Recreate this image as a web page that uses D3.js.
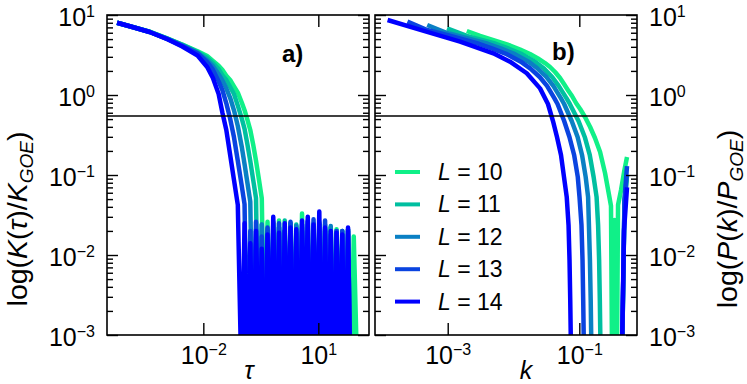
<!DOCTYPE html>
<html><head><meta charset="utf-8">
<script src="https://cdn.jsdelivr.net/npm/d3@7"></script>
<style>
body{margin:0;background:#fff}
svg text{font-family:"Liberation Sans",Arial,Helvetica,sans-serif}
</style>
</head><body>
<svg id="chart" width="747" height="384"></svg>
<script>
// ---------------- DATA ----------------
const sizes = [10, 11, 12, 13, 14];
const colors = ["#10f088", "#00bfa0", "#0a80c4", "#0a44e0", "#0000ff"];
const yTickValues = [1e-3, 1e-2, 1e-1, 1, 10];
const tauTicks = [1e-2, 10];
const kTicks = [1e-3, 1e-1];
const tauDomain = [3.07e-5, 210];
const kDomain = [7.85e-5, 0.753];
const valueDomain = [1e-3, 10];
const goeLevel = 0.546;

// panel a) : spectral form factor ratio, shared tau grid
const tau = [5.62e-5, 1.41e-4, 3.98e-4, 1.12e-3, 2.82e-3, 7.08e-3, 0.0126, 0.0178, 0.0251, 0.0316, 0.0398, 0.0501, 0.0631, 0.0794, 0.1,
  0.119, 0.141, 0.168, 0.2, 0.237, 0.282, 0.335, 0.398, 0.473, 0.562, 0.668, 0.794, 0.944, 1.12, 1.33, 1.58, 1.88, 2.24, 2.66, 3.16,
  3.76, 4.47, 5.31, 6.31, 7.5, 8.91, 10.6, 12.6, 15.0, 17.8, 21.1, 25.1, 29.9, 35.5, 42.2, 50.1, 59.6, 70.8, 84.1, 110];
const kA10 = [8.01, 7.10, 6.18, 5.11, 4.28, 3.52, 3.08, 2.67, 2.32, 2.05, 1.74, 1.54, 1.28, 1.07, 0.811,
  0.646, 0.491, 0.365, 0.240, 0.150, 0.0881, 0.0510, 3e-4, 0.026, 1e-4, 0.023, 2e-4, 0.027, 1e-4, 0.02, 3e-4, 0.025, 1e-4, 0.023, 2e-4,
  0.033, 1e-4, 0.024, 2e-4, 0.022, 1e-4, 0.026, 3e-4, 0.021, 1e-4, 0.022, 2e-4, 0.021, 1e-4, 0.02, 2e-4, 0.018, 3e-4, 0.017, 1e-4];
const kA11 = [8.01, 7.08, 6.17, 5.10, 4.24, 3.44, 2.91, 2.50, 2.11, 1.76, 1.54, 1.26, 1.03, 0.737, 0.513,
  0.377, 0.243, 0.149, 0.0866, 0.0514, 2e-4, 0.024, 1e-4, 0.021, 2e-4, 0.025, 1e-4, 0.022, 3e-4, 0.027, 1e-4, 0.02, 2e-4, 0.024, 1e-4,
  0.022, 3e-4, 0.02, 1e-4, 0.025, 2e-4, 0.021, 1e-4, 0.024, 2e-4, 0.022, 1e-4, 0.019, 3e-4, 0.02, 1e-4, 0.021, 2e-4, null, null];
const kA12 = [8.01, 7.08, 6.13, 5.07, 4.18, 3.34, 2.72, 2.30, 1.82, 1.51, 1.21, 0.923, 0.644, 0.410, 0.229,
  0.137, 0.0804, 0.0464, 3e-4, 0.021, 1e-4, 0.024, 2e-4, 0.02, 1e-4, 0.026, 3e-4, 0.022, 1e-4, 0.02, 2e-4, 0.025, 1e-4, 0.023, 3e-4,
  0.02, 1e-4, 0.027, 2e-4, 0.022, 1e-4, 0.024, 2e-4, 0.02, 1e-4, 0.023, 3e-4, 0.02, 1e-4, 0.018, 2e-4, 0.021, 1e-4, null, null];
const kA13 = [8.01, 7.08, 6.13, 5.04, 4.11, 3.33, 2.57, 2.07, 1.48, 1.14, 0.788, 0.504, 0.296, 0.150, 0.0744,
  0.0431, 2e-4, 0.02, 1e-4, 0.026, 2e-4, 0.017, 1e-4, 0.022, 3e-4, 0.02, 1e-4, 0.025, 2e-4, 0.02, 1e-4, 0.026, 3e-4, 0.019, 1e-4,
  0.024, 2e-4, 0.026, 1e-4, 0.028, 2e-4, 0.025, 1e-4, 0.027, 3e-4, 0.018, 1e-4, 0.02, 2e-4, 0.02, 1e-4, 0.02, 1e-4, null, null];
const kA14 = [8.01, 7.08, 6.13, 5.01, 4.04, 3.12, 2.24, 1.63, 1.03, 0.596, 0.365, 0.178, 0.0866, 0.0422, 2e-4,
  0.025, 1e-4, 0.014, 2e-4, 0.02, 5e-4, 0.012, 1e-4, 0.018, 3e-4, 0.03, 2e-4, 0.019, 1e-4, 0.025, 4e-4, 0.022, 1e-4, 0.021, 2e-4,
  0.027, 6e-4, 0.03, 1e-4, 0.024, 3e-4, 0.035, 1e-4, 0.022, 2e-4, 0.02, 1e-4, 0.019, 3e-4, 0.018, 1e-4, 0.022, 1e-4, null, null];

// panel b) : each size has its own k grid
const kB10 = [1.95e-3, 3.10e-3, 5.24e-3, 8.85e-3, 0.0126, 0.0178, 0.0235, 0.0301, 0.0359, 0.0428, 0.0509, 0.0585, 0.0673, 0.0775, 0.0891,
  0.103, 0.122, 0.146, 0.173, 0.207, 0.246, 0.283, 0.303, 0.325, 0.343, 0.361, 0.388, 0.431, 0.479, 0.531];
const pB10 = [6.31, 5.47, 4.79, 4.16, 3.70, 3.25, 2.86, 2.51, 2.24, 1.94, 1.63, 1.37, 1.15, 0.972, 0.794,
  0.668, 0.531, 0.398, 0.290, 0.194, 0.106, 0.0562, 0.041, 1e-5, 0.0274, 1e-5, 0.0422, 0.065, 0.109, 0.168];
const kB11 = [9.77e-4, 1.95e-3, 5.35e-3, 8.51e-3, 0.0134, 0.0213, 0.0291, 0.0387, 0.0486, 0.0637, 0.0718, 0.0973, 0.121, 0.144, 0.165,
  0.183, 0.193, 0.200, 0.205, 0.209, 0.221, 0.416, 0.446, 0.486, 0.531];
const pB11 = [6.82, 5.47, 4.37, 3.79, 3.24, 2.61, 2.14, 1.68, 1.30, 0.915, 0.772, 0.473, 0.299, 0.178, 0.0944,
  0.0531, 0.0237, 0.00866, 0.00274, 8.66e-4, 1e-4, 1e-5, 5e-4, 0.045, 0.1];
const kB12 = [4.88e-4, 9.77e-4, 4.07e-3, 6.53e-3, 0.0105, 0.0169, 0.0233, 0.0316, 0.0403, 0.0524, 0.0588, 0.0766, 0.0942, 0.110, 0.125,
  0.136, 0.140, 0.145, 0.149, 0.152, 0.161, 0.416, 0.446, 0.486, 0.531];
const pB12 = [7.50, 5.96, 4.37, 3.79, 3.24, 2.61, 2.14, 1.68, 1.30, 0.915, 0.772, 0.473, 0.299, 0.178, 0.0944,
  0.0531, 0.0237, 0.00866, 0.00274, 8.66e-4, 1e-4, 1e-5, 5e-4, 0.045, 0.1];
const kB13 = [2.44e-4, 4.88e-4, 9.77e-4, 2.97e-3, 4.80e-3, 7.89e-3, 0.0129, 0.0181, 0.0250, 0.0323, 0.0417, 0.0467, 0.0589, 0.0708, 0.0834,
  0.0948, 0.1007, 0.1079, 0.1119, 0.1146, 0.1169, 0.1222, 0.416, 0.446, 0.486, 0.531];
const pB13 = [8.25, 6.49, 5.62, 4.37, 3.79, 3.24, 2.61, 2.14, 1.68, 1.30, 0.915, 0.772, 0.473, 0.299, 0.178,
  0.0944, 0.0531, 0.0237, 0.00866, 0.00274, 8.66e-4, 1e-4, 1e-5, 5e-4, 0.0487, 0.129];
const kB14 = [1.22e-4, 4.73e-4, 1.54e-3, 4.93e-3, 8.85e-3, 0.0159, 0.0253, 0.0334, 0.0398, 0.0458, 0.0527, 0.0585, 0.0644, 0.0686, 0.0710,
  0.0728, 0.0743, 0.0775, 0.416, 0.438, 0.478, 0.531];
const pB14 = [8.66, 6.20, 4.64, 3.32, 2.61, 1.87, 1.21, 0.772, 0.473, 0.299, 0.178, 0.0944, 0.0531, 0.0237, 0.00866,
  0.00274, 8.66e-4, 1e-4, 1e-5, 3e-4, 0.02, 0.07];

// ---------------- LAYOUT ----------------
const FONT = '"Liberation Sans", Arial, Helvetica, sans-serif';
const plotTop = 15, plotBottom = 335;
const pA = {x0: 107, x1: 369}, pB = {x0: 375, x1: 637};
const svg = d3.select("#chart");

const y = d3.scaleLog().domain(valueDomain).range([plotBottom, plotTop]);
const xA = d3.scaleLog().domain(tauDomain).range([pA.x0, pA.x1]);
const xB = d3.scaleLog().domain(kDomain).range([pB.x0, pB.x1]);

const defs = svg.append("defs");
[["clipA", pA], ["clipB", pB]].forEach(([id, p]) => {
  defs.append("clipPath").attr("id", id).append("rect")
    .attr("x", p.x0).attr("y", plotTop).attr("width", p.x1 - p.x0).attr("height", plotBottom - plotTop);
});

const seriesA = [kA10, kA11, kA12, kA13, kA14].map(v => tau.map((t, i) => ({x: t, v: v[i]})));
const seriesB = [[kB10, pB10], [kB11, pB11], [kB12, pB12], [kB13, pB13], [kB14, pB14]]
  .map(([ks, ps]) => ks.map((k, i) => ({x: k, v: ps[i]})));

function drawCurves(series, x, clip) {
  const line = d3.line().defined(d => d.v != null).x(d => x(d.x)).y(d => y(d.v));
  svg.append("g").attr("clip-path", `url(#${clip})`)
    .selectAll("path").data(series).join("path")
    .attr("d", line).attr("fill", "none")
    .attr("stroke", (d, i) => colors[i]).attr("stroke-width", 4.5)
    .attr("stroke-linejoin", "round");
}
drawCurves(seriesA, xA, "clipA");
drawCurves(seriesB, xB, "clipB");

// GOE reference line
[pA, pB].forEach(p => {
  svg.append("line").attr("x1", p.x0).attr("x2", p.x1)
    .attr("y1", y(goeLevel)).attr("y2", y(goeLevel))
    .attr("stroke", "#000").attr("stroke-width", 1.4);
});

// minor ticks
const minor = [];
yTickValues.slice(0, -1).forEach(d => { for (let m = 2; m <= 9; m++) minor.push(d * m); });

function supText(sel, sup, supDy) {
  sel.each(function(d) {
    const e = Math.round(Math.log10(d));
    const t = d3.select(this);
    t.text(null);
    t.append("tspan").text("10");
    t.append("tspan").attr("font-size", sup).attr("dy", supDy)
      .text(e < 0 ? "\u2212" + (-e) : String(e));
  });
}

function styleAxis(g) {
  g.attr("font-family", FONT).attr("font-size", 25);
  g.select(".domain").remove();
  g.selectAll(".tick line").attr("stroke", "#000").attr("stroke-width", 1.4);
  g.selectAll("text").attr("fill", "#000");
}

function yAxis(gen, xpos, labels) {
  const major = svg.append("g").attr("transform", `translate(${xpos},0)`)
    .call(gen(y).tickValues(yTickValues).tickSize(-11).tickSizeOuter(0).tickPadding(12)
      .tickFormat(labels ? (d => d) : () => ""));
  styleAxis(major);
  if (labels) {
    major.selectAll("text").attr("dy", "0.42em");
    supText(major.selectAll("text"), 16, -9);
  }
  const mn = svg.append("g").attr("transform", `translate(${xpos},0)`)
    .call(gen(y).tickValues(minor).tickSize(-6).tickSizeOuter(0).tickFormat(() => ""));
  styleAxis(mn);
}
yAxis(d3.axisLeft, pA.x0, true);
yAxis(d3.axisRight, pA.x1, false);
yAxis(d3.axisLeft, pB.x0, false);
yAxis(d3.axisRight, pB.x1, true);

function xAxis(x, ticks) {
  const b = svg.append("g").attr("transform", `translate(0,${plotBottom})`)
    .call(d3.axisBottom(x).tickValues(ticks).tickSize(-12).tickSizeOuter(0).tickPadding(11).tickFormat(d => d));
  styleAxis(b);
  supText(b.selectAll("text"), 16, -9);
  const t = svg.append("g").attr("transform", `translate(0,${plotTop})`)
    .call(d3.axisTop(x).tickValues(ticks).tickSize(-12).tickSizeOuter(0).tickFormat(() => ""));
  styleAxis(t);
}
xAxis(xA, tauTicks);
xAxis(xB, kTicks);

// frames
[pA, pB].forEach(p => {
  svg.append("rect").attr("x", p.x0).attr("y", plotTop).attr("width", p.x1 - p.x0).attr("height", plotBottom - plotTop)
    .attr("fill", "none").attr("stroke", "#000").attr("stroke-width", 1.6);
});

// axis titles
svg.append("text").attr("x", 249).attr("y", 379).attr("text-anchor", "middle")
  .attr("font-size", 25).attr("font-style", "italic").text("τ");
svg.append("text").attr("x", 526).attr("y", 379).attr("text-anchor", "middle")
  .attr("font-size", 25).attr("font-style", "italic").text("k");

function yTitle(xpos, sym, arg) {
  const t = svg.append("text").attr("transform", `translate(${xpos},219) rotate(-90)`)
    .attr("text-anchor", "middle").attr("font-size", 28.5);
  t.append("tspan").text("log(");
  t.append("tspan").attr("font-style", "italic").text(sym);
  t.append("tspan").text("(");
  t.append("tspan").attr("font-style", "italic").text(arg);
  t.append("tspan").text(")/");
  t.append("tspan").attr("font-style", "italic").text(sym);
  t.append("tspan").attr("font-style", "italic").attr("font-size", 19).attr("dy", 6).text("GOE");
  t.append("tspan").attr("dy", -6).text(")");
}
yTitle(27, "K", "τ");
yTitle(737, "P", "k");

// panel letters
svg.append("text").attr("x", 282).attr("y", 62).attr("font-size", 24).attr("font-weight", "bold").text("a)");
svg.append("text").attr("x", 552).attr("y", 60).attr("font-size", 24).attr("font-weight", "bold").text("b)");

// legend
const leg = svg.append("g");
sizes.forEach((L, i) => {
  const yy = 172 + i * 32.4;
  leg.append("line").attr("x1", 395).attr("x2", 420).attr("y1", yy).attr("y2", yy)
    .attr("stroke", colors[i]).attr("stroke-width", 4);
  const t = leg.append("text").attr("x", 438).attr("y", yy + 8).attr("font-size", 23);
  t.append("tspan").attr("font-style", "italic").text("L");
  t.append("tspan").text(" = " + L);
});
</script>
</body></html>
